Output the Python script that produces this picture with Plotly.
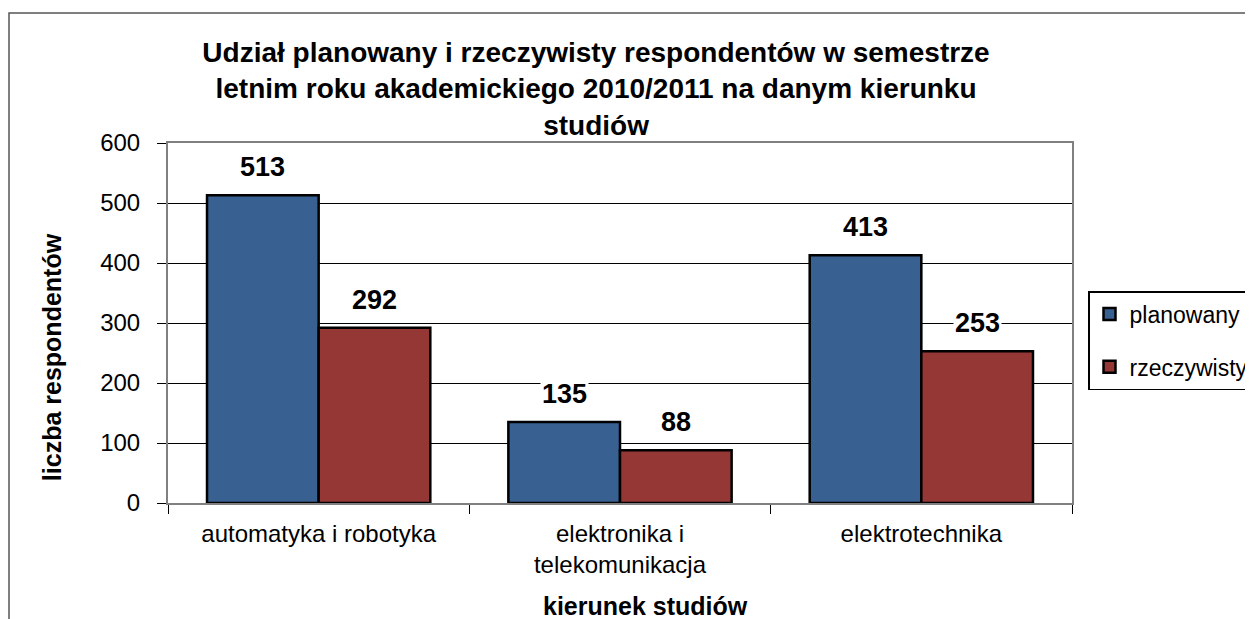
import plotly.graph_objects as go

categories = ["automatyka i robotyka", "elektronika i<br>telekomunikacja", "elektrotechnika"]
planowany = [513, 135, 413]
rzeczywisty = [292, 88, 253]
series_names = ["planowany", "rzeczywisty"]
colors = ["#386192", "#953735"]
tick_vals = [0, 100, 200, 300, 400, 500, 600]

# the page body has an 8px margin
W, H = 1245, 611
L, T = 160, 135
plot_w, plot_h = 904, 360
R = W - L - plot_w
B = H - T - plot_h
bargap = 0.259
cat_px = plot_w / len(categories)
bar_px = cat_px * (1 - bargap) / 2

fig = go.Figure()
for name, vals, col in zip(series_names, [planowany, rzeczywisty], colors):
    fig.add_trace(go.Bar(
        x=categories, y=vals, name=name, legendgroup=name,
        marker=dict(color=col, line=dict(color="black", width=2.5)),
    ))

font_family = "Liberation Sans, Arial, sans-serif"
annotations = []
for i, vals in enumerate([planowany, rzeczywisty]):
    shift = (-0.5 if i == 0 else 0.5) * bar_px
    for c, v in zip(categories, vals):
        annotations.append(dict(
            x=c, y=v, xref="x", yref="y", text=str(v), showarrow=False,
            xshift=shift, yshift=28, bgcolor="white",
            font=dict(family=font_family, size=27, color="black", weight="bold"),
        ))

annotations.append(dict(
    x=-0.128, y=0.406, xref="paper", yref="paper", text="liczba respondentów",
    textangle=-90, showarrow=False, xanchor="center", yanchor="middle",
    font=dict(family=font_family, size=25, color="black", weight="bold"),
))
annotations.append(dict(
    x=0.528, y=-0.286, xref="paper", yref="paper", text="kierunek studiów",
    showarrow=False, xanchor="center", yanchor="middle",
    font=dict(family=font_family, size=25, color="black", weight="bold"),
))

fig.update_layout(
    width=W, height=H,
    margin=dict(l=L, r=R, t=T, b=B),
    paper_bgcolor="white", plot_bgcolor="white",
    barmode="group", bargap=bargap, bargroupgap=0,
    font=dict(family=font_family, color="black"),
    title=dict(
        text="Udział planowany i rzeczywisty respondentów w semestrze<br>letnim roku akademickiego 2010/2011 na danym kierunku<br>studiów",
        x=0.4735, xref="paper", xanchor="center",
        y=1 - 54 / H, yref="container", yanchor="top",
        font=dict(family=font_family, size=28, color="black", weight="bold"),
    ),
    xaxis=dict(
        tickson="boundaries", ticks="outside", ticklen=9, tickcolor="black",
        showline=True, linecolor="#808080", linewidth=2, mirror=True,
        tickfont=dict(size=24), showgrid=False, ticklabelstandoff=8,
    ),
    yaxis=dict(
        range=[0, 600], tickvals=tick_vals, ticks="outside", ticklen=9,
        tickcolor="black", showline=True, linecolor="#808080", linewidth=2,
        mirror=True, gridcolor="black", gridwidth=1, zeroline=False,
        tickfont=dict(size=24), ticklabelstandoff=12,
    ),
    legend=dict(
        x=1080 / W, y=1 - 283 / H, xref="container", yref="container",
        xanchor="left", yanchor="top",
        bordercolor="black", borderwidth=1.5,
        font=dict(size=23), traceorder="grouped", tracegroupgap=20,
    ),
    annotations=annotations,
    shapes=[dict(
        type="rect", xref="paper", yref="paper",
        x0=(1 - L) / plot_w, x1=1.4, y0=-0.6, y1=(T + plot_h - 5) / plot_h,
        line=dict(color="#555555", width=1.5), layer="below",
    )],
)

fig.write_html("out.html")
